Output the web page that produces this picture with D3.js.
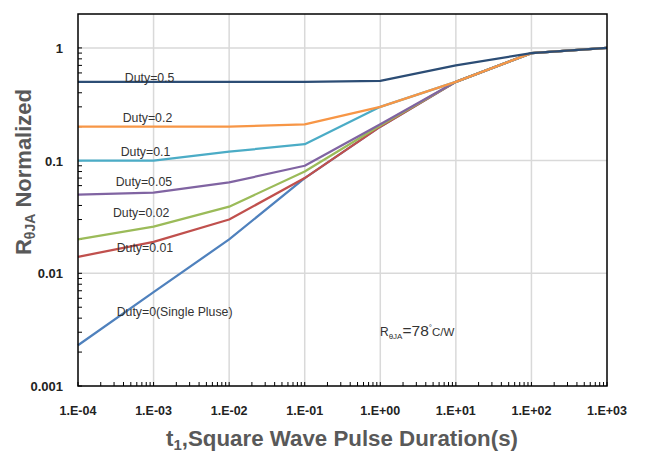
<!DOCTYPE html>
<html><head><meta charset="utf-8">
<script src="https://cdn.jsdelivr.net/npm/d3@7"></script>
<style>body{margin:0;background:#fff}svg{display:block}</style>
</head><body>
<svg id="c" width="646" height="454"></svg>
<script>
const xTicks = [1e-4,1e-3,1e-2,1e-1,1e0,1e1,1e2,1e3];
const xTickLabels = ["1.E-04","1.E-03","1.E-02","1.E-01","1.E+00","1.E+01","1.E+02","1.E+03"];
const yTicks = [0.001,0.01,0.1,1];
const yTickLabels = ["0.001","0.01","0.1","1"];
const seriesNames = ["Duty=0(Single Pluse)","Duty=0.01","Duty=0.02","Duty=0.05","Duty=0.1","Duty=0.2","Duty=0.5"];
const single = [0.0023,0.0068,0.020,0.070,0.20,0.50,0.90,1.0];
const duty001 = [0.014,0.019,0.030,0.070,0.20,0.50,0.90,1.0];
const duty002 = [0.020,0.026,0.039,0.080,0.205,0.50,0.90,1.0];
const duty005 = [0.050,0.052,0.064,0.090,0.21,0.50,0.90,1.0];
const duty01 = [0.10,0.10,0.12,0.14,0.30,0.50,0.90,1.0];
const duty02 = [0.20,0.20,0.20,0.21,0.30,0.50,0.90,1.0];
const duty05 = [0.50,0.50,0.50,0.50,0.51,0.70,0.90,1.0];
const seriesValues = [single,duty001,duty002,duty005,duty01,duty02,duty05];
const colors = ["#4F81BD","#C0504D","#9BBB59","#8064A2","#4BACC6","#F79646","#2C4D75"];
// label anchor positions in data space (x, y)
const labelPos = [[3.25e-4,0.0042],[3.25e-4,0.0155],[2.9e-4,0.0313],[3.15e-4,0.059],[3.67e-4,0.109],[3.9e-4,0.218],[4.17e-4,0.50]];

const svg = d3.select("#c");
const L=78, R=607, T=14, B=386;
const x = d3.scaleLog().domain([1e-4,1e3]).range([L,R]);
const y = d3.scaleLog().domain([0.001,2]).range([B,T]);

// gridlines
const g = svg.append("g");
g.selectAll("line.vg").data(xTicks.slice(1,-1)).join("line")
  .attr("x1",d=>x(d)).attr("x2",d=>x(d)).attr("y1",T).attr("y2",B)
  .attr("stroke","#D9D9D9").attr("stroke-width",1.5);
g.selectAll("line.hg").data(yTicks.slice(1)).join("line")
  .attr("x1",L).attr("x2",R).attr("y1",d=>y(d)).attr("y2",d=>y(d))
  .attr("stroke","#D9D9D9").attr("stroke-width",1.5);

// minor ticks
const xMinor=[], yMinor=[];
for(let e=-4;e<3;e++) for(let m=1;m<=9;m++) xMinor.push(m*Math.pow(10,e));
xMinor.push(1e3);
for(let e=-3;e<0;e++) for(let m=1;m<=9;m++) yMinor.push(m*Math.pow(10,e));
yMinor.push(1);
svg.append("g").selectAll("line").data(xMinor).join("line")
  .attr("x1",d=>x(d)).attr("x2",d=>x(d)).attr("y1",B).attr("y2",B-4)
  .attr("stroke","#000").attr("stroke-width",1);
svg.append("g").selectAll("line").data(yMinor).join("line")
  .attr("x1",L).attr("x2",L+4).attr("y1",d=>y(d)).attr("y2",d=>y(d))
  .attr("stroke","#000").attr("stroke-width",1);

// series lines
const line = d3.line().x((d,i)=>x(xTicks[i])).y(d=>y(d));
svg.append("g").selectAll("path").data(seriesValues).join("path")
  .attr("d",d=>line(d)).attr("fill","none")
  .attr("stroke",(d,i)=>colors[i]).attr("stroke-width",2.25)
  .attr("stroke-linejoin","round");

// frame
svg.append("rect").attr("x",L).attr("y",T).attr("width",R-L).attr("height",B-T)
  .attr("fill","none").attr("stroke","#000").attr("stroke-width",1.5);

// tick labels
svg.append("g").selectAll("text").data(xTicks).join("text")
  .attr("x",d=>x(d)).attr("y",415).attr("text-anchor","middle")
  .attr("font-family","Liberation Sans, Arial, sans-serif").attr("font-weight","bold")
  .attr("font-size",12.5).attr("fill","#222").text((d,i)=>xTickLabels[i]);
svg.append("g").selectAll("text").data(yTicks).join("text")
  .attr("x",63).attr("y",d=>y(d)+5).attr("text-anchor","end")
  .attr("font-family","Liberation Sans, Arial, sans-serif").attr("font-weight","bold")
  .attr("font-size",13).attr("fill","#222").text((d,i)=>yTickLabels[i]);

// series labels
svg.append("g").selectAll("text").data(seriesNames).join("text")
  .attr("x",(d,i)=>x(labelPos[i][0])).attr("y",(d,i)=>y(labelPos[i][1]))
  .attr("font-family","Liberation Sans, Arial, sans-serif")
  .attr("font-size",12.3).attr("fill","#333").text(d=>d);

// annotation
const ann = svg.append("text").attr("x",380).attr("y",336)
  .attr("font-family","Liberation Sans, Arial, sans-serif").attr("fill","#333");
ann.append("tspan").attr("font-size",12).text("R");
ann.append("tspan").attr("font-size",8).attr("dy",3).text("θJA");
ann.append("tspan").attr("font-size",15.5).attr("dy",-3).text("=78");
ann.append("tspan").attr("font-size",8).attr("dy",-6).text("°");
ann.append("tspan").attr("font-size",11.5).attr("dy",6).text("C/W");

// axis titles
svg.append("text").attr("x",342).attr("y",446).attr("text-anchor","middle")
  .attr("font-family","Liberation Sans, Arial, sans-serif").attr("font-weight","bold")
  .attr("font-size",22.3).attr("fill","#595959")
  .call(t=>{t.append("tspan").text("t");
    t.append("tspan").attr("font-size",15).attr("dy",4).text("1");
    t.append("tspan").attr("dy",-4).text(",Square Wave Pulse Duration(s)");});
svg.append("text").attr("transform","translate(31,172) rotate(-90)").attr("text-anchor","middle")
  .attr("font-family","Liberation Sans, Arial, sans-serif").attr("font-weight","bold")
  .attr("font-size",22).attr("fill","#595959")
  .call(t=>{t.append("tspan").text("R");
    t.append("tspan").attr("font-size",14).attr("dy",4).text("θJA");
    t.append("tspan").attr("dy",-4).text(" Normalized");});
</script>
</body></html>
